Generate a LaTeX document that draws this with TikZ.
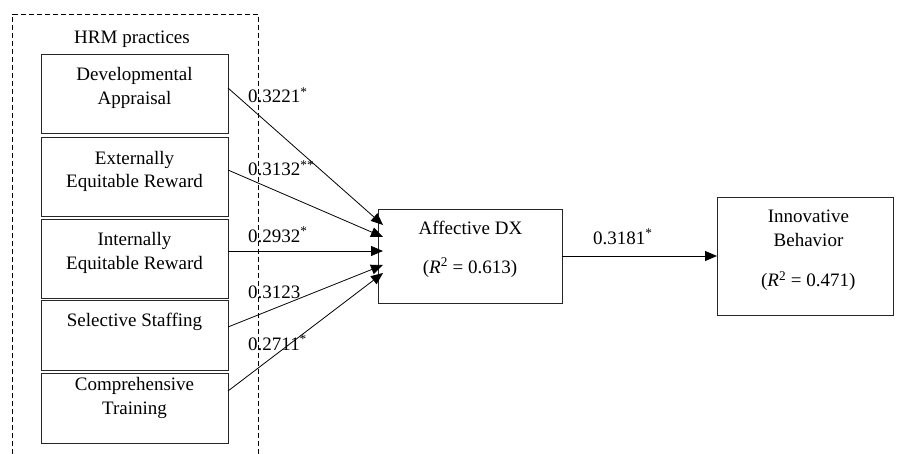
\documentclass[tikz,border=0pt]{standalone}
\usepackage{fontspec}
\setmainfont{Liberation Serif}
\usetikzlibrary{arrows.meta,calc}
\begin{document}
\begin{tikzpicture}[x=1pt,y=-1pt,
  box/.style={draw=black!85, line width=0.9pt, inner sep=0pt, outer sep=0pt},
  lbl/.style={font=\fontsize{19}{25}\selectfont, inner sep=0pt, anchor=base},
  coef/.style={font=\fontsize{19}{25}\selectfont, inner sep=0pt, anchor=base west},
  arr/.style={-{Triangle[length=12pt,width=10pt]}, line width=0.8pt},
  grpline/.style={line width=0.8pt, dash pattern=on 5pt off 3pt}]
\useasboundingbox (0,0) rectangle (901,454);

% group frame for the HRM practices (open at the bottom edge)
\draw[grpline] (12,454) -- (12,14.5) -- (258,14.5) -- (258,454);
\node[lbl] (hrm) at (132,44) {HRM practices};

% practice boxes
\node[box, minimum width=187pt, minimum height=79pt] (b1) at (134.5,93.5) {};
\node[box, minimum width=187pt, minimum height=79pt] (b2) at (134.5,176.5) {};
\node[box, minimum width=187pt, minimum height=79pt] (b3) at (134.5,258.5) {};
\node[box, minimum width=187pt, minimum height=70pt] (b4) at (134.5,335) {};
\node[box, minimum width=187pt, minimum height=70pt] (b5) at (134.5,408) {};

\node[lbl] (b1a) at (134.5,81) {Developmental};
\node[lbl] (b1b) at (134.5,105) {Appraisal};
\node[lbl] (b2a) at (134.5,164.3) {Externally};
\node[lbl] (b2b) at (134.5,187.7) {Equitable Reward};
\node[lbl] (b3a) at (134.5,245) {Internally};
\node[lbl] (b3b) at (134.5,269) {Equitable Reward};
\node[lbl] (b4a) at (134.5,326.7) {Selective Staffing};
\node[lbl] (b5a) at (134.5,390) {Comprehensive};
\node[lbl] (b5b) at (134.5,414.3) {Training};

% mediator and outcome
\node[box, minimum width=184pt, minimum height=94pt] (aff) at (470,256) {};
\node[lbl] (affa) at (470.5,234) {Affective DX};
\node[lbl] (affb) at (470,273) {(\textit{R}\textsuperscript{2} = 0.613)};

\node[box, minimum width=176pt, minimum height=118pt] (inn) at (805,256) {};
\node[lbl] (inna) at (808.5,222.7) {Innovative};
\node[lbl] (innb) at (808.5,246.7) {Behavior};
\node[lbl] (innc) at (808.3,286.7) {(\textit{R}\textsuperscript{2} = 0.471)};

% paths
\draw[arr] ([yshift=5.5pt]b1.east) -- ([xshift=5pt,yshift=31pt]aff.west);
\draw[arr] ([yshift=6.5pt]b2.east) -- ([xshift=5pt,yshift=19pt]aff.west);
\draw[arr] ([yshift=7.5pt]b3.east) -- ([xshift=5pt,yshift=5pt]aff.west);
\draw[arr] ([yshift=8pt]b4.east) -- ([xshift=5pt,yshift=-9pt]aff.west);
\draw[arr] ([yshift=17pt]b5.east) -- ([xshift=5pt,yshift=-17pt]aff.west);
\draw[arr] (aff.east) -- (inn.west);

% path coefficients
\node[coef] (c1) at (248,103) {0.3221\textsuperscript{*}};
\node[coef] (c2) at (248,176) {0.3132\textsuperscript{**}};
\node[coef] (c3) at (248,242) {0.2932\textsuperscript{*}};
\node[coef] (c4) at (248,298) {0.3123};
\node[coef] (c5) at (248,350) {0.2711\textsuperscript{*}};
\node[coef] (c6) at (593,244) {0.3181\textsuperscript{*}};
\end{tikzpicture}
\end{document}
